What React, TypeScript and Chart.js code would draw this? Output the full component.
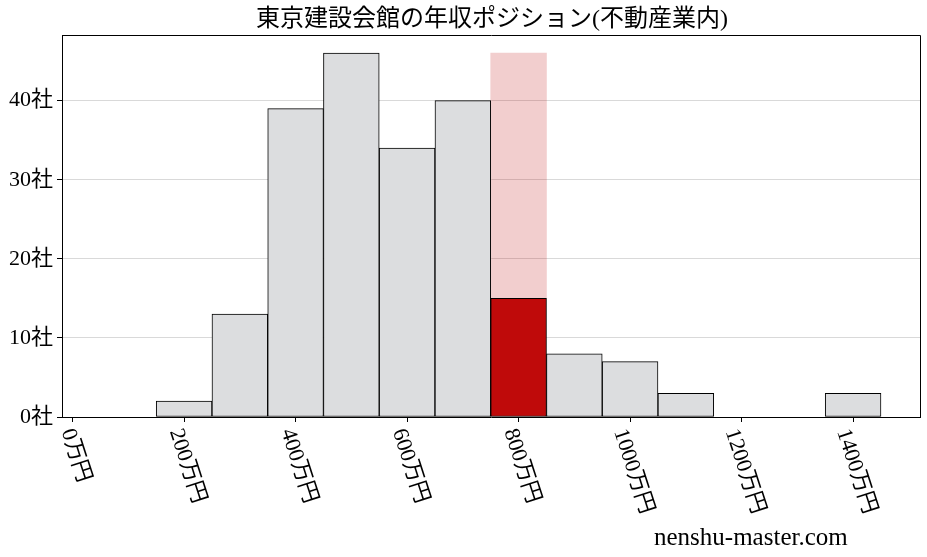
import React, { useEffect, useRef } from "react";
import { Chart, registerables } from "chart.js";

Chart.register(...registerables);

// ---- data ----
const binCenters = [200, 300, 400, 500, 600, 700, 800, 900, 1000, 1100, 1200, 1300, 1400];
const counts: (number | null)[] = [2, 13, 39, 46, 34, 40, 15, 8, 7, 3, null, null, 3];
const highlightCenter = 800;
const highlightHeight = 46;
const xTickValues = [0, 200, 400, 600, 800, 1000, 1200, 1400];
const xTickLabels = ["0万円", "200万円", "400万円", "600万円", "800万円", "1000万円", "1200万円", "1400万円"];
const yTickValues = [0, 10, 20, 30, 40];
const yUnit = "社";
const titleText = "東京建設会館の年収ポジション(不動産業内)";
const watermarkText = "nenshu-master.com";

const FONT = '"Liberation Serif", "Noto Sans CJK JP", serif';
const GRAY = "#dcdddf";
const RED = "#bf0a0a";
const PINK = "rgba(191,10,10,0.2)";
const TICK_SIZE = 22;

const overlayPlugin = {
  id: "overlay",
  afterDraw(chart: any) {
    const { ctx, chartArea: a, scales } = chart;
    const x = scales.x;
    ctx.save();
    // top & right frame
    ctx.strokeStyle = "#000";
    ctx.lineWidth = 1;
    ctx.beginPath();
    ctx.moveTo(Math.round(a.left) + 0.5, Math.round(a.top) + 0.5);
    ctx.lineTo(Math.round(a.right) + 0.5, Math.round(a.top) + 0.5);
    ctx.lineTo(Math.round(a.right) + 0.5, Math.round(a.bottom) + 0.5);
    ctx.stroke();

    // rotated x tick labels
    const th = (72 * Math.PI) / 180;
    ctx.font = `${TICK_SIZE}px ${FONT}`;
    ctx.fillStyle = "#000";
    ctx.textAlign = "center";
    ctx.textBaseline = "middle";
    xTickValues.forEach((v, i) => {
      const label = xTickLabels[i];
      const px = x.getPixelForValue(v);
      const w = ctx.measureText(label).width;
      const h = TICK_SIZE;
      const bh = w * Math.sin(th) + h * Math.cos(th);
      const cy = a.bottom + 9 + bh / 2;
      ctx.save();
      ctx.translate(px + 3, cy);
      ctx.rotate(th);
      ctx.fillText(label, 0, 0);
      ctx.restore();
    });

    // title
    ctx.font = `24px ${FONT}`;
    ctx.textAlign = "center";
    ctx.textBaseline = "middle";
    ctx.fillText(titleText, (a.left + a.right) / 2 + 1, 20);

    // watermark
    ctx.font = `25px "Liberation Serif", serif`;
    ctx.textAlign = "center";
    ctx.textBaseline = "alphabetic";
    ctx.fillText(watermarkText, chart.width * 0.81, 545);
    ctx.restore();
  },
};

export default function App() {
  const ref = useRef<HTMLCanvasElement | null>(null);
  useEffect(() => {
    if (!ref.current) return;
    const chart = new Chart(ref.current, {
      type: "bar",
      data: {
        datasets: [
          {
            data: [{ x: highlightCenter, y: highlightHeight }],
            backgroundColor: PINK,
            borderWidth: 0,
            grouped: false,
            order: 3,
            barPercentage: 1,
            categoryPercentage: 1,
          } as any,
          {
            data: binCenters.map((c, i) => ({ x: c, y: counts[i] })),
            backgroundColor: binCenters.map((c) => (c === highlightCenter ? RED : GRAY)),
            borderColor: "#000",
            borderWidth: 1,
            borderSkipped: false,
            grouped: false,
            order: 1,
            barPercentage: 1,
            categoryPercentage: 1,
          } as any,
        ],
      },
      options: {
        animation: false,
        responsive: false,
        maintainAspectRatio: false,
        layout: { padding: { left: 0, top: 35, right: 7, bottom: 0 } },
        plugins: {
          legend: { display: false },
          tooltip: { enabled: false },
          title: { display: false },
        },
        scales: {
          x: {
            type: "linear",
            offset: false,
            min: -19,
            max: 1520,
            afterBuildTicks: (s: any) => {
              s.ticks = xTickValues.map((v) => ({ value: v }));
            },
            afterFit: (s: any) => {
              s.height = 140;
            },
            ticks: { display: false },
            grid: {
              offset: false,
              drawOnChartArea: false,
              drawTicks: true,
              tickLength: 5,
              color: "#000",
              tickColor: "#000",
            },
            border: { display: true, color: "#000", width: 1 },
          },
          y: {
            min: 0,
            max: 48.3,
            afterBuildTicks: (s: any) => {
              s.ticks = yTickValues.map((v) => ({ value: v }));
            },
            afterFit: (s: any) => {
              s.width = 62;
            },
            ticks: {
              callback: (v: any) => `${v}${yUnit}`,
              font: { size: TICK_SIZE, family: FONT },
              color: "#000",
              padding: 4,
            },
            grid: {
              color: "#d9d9d9",
              tickColor: "#000",
              tickLength: 5,
              drawTicks: true,
            },
            border: { display: true, color: "#000", width: 1 },
          },
        },
      } as any,
      plugins: [overlayPlugin],
    });
    return () => chart.destroy();
  }, []);
  return (
    <div style={{ position: "absolute", left: 0, top: 0, width: 927, height: 557, background: "#fff" }}>
      <canvas ref={ref} width={927} height={557} style={{ width: 927, height: 557 }} />
    </div>
  );
}
